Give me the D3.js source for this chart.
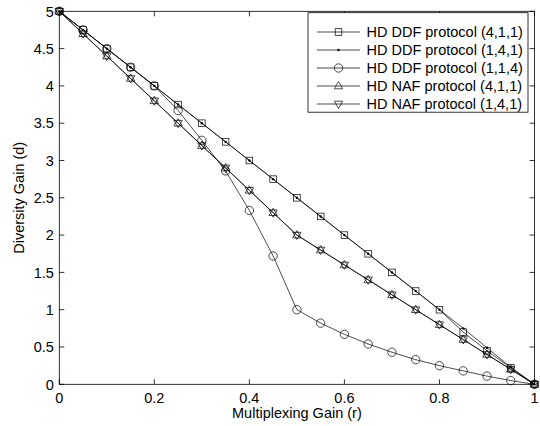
<!DOCTYPE html>
<html><head><meta charset="utf-8">
<script src="https://cdn.jsdelivr.net/npm/d3@7"></script>
<style>body{margin:0;background:#fff}svg{display:block}text{font-family:"Liberation Sans",Arial,sans-serif;fill:#000}</style>
</head><body>
<script>
const rValues = [0,0.05,0.1,0.15,0.2,0.25,0.3,0.35,0.4,0.45,0.5,0.55,0.6,0.65,0.7,0.75,0.8,0.85,0.9,0.95,1];
const ddf411 = [5,4.75,4.5,4.25,4,3.75,3.5,3.25,3,2.75,2.5,2.25,2,1.75,1.5,1.25,1,0.70,0.45,0.22,0];
const ddf141 = [5,4.75,4.5,4.25,4,3.75,3.5,3.25,3,2.75,2.5,2.25,2,1.75,1.5,1.25,1,0.75,0.49,0.23,0];
const ddf114 = [5,4.75,4.5,4.25,4,3.67,3.27,2.86,2.33,1.72,1,0.82,0.67,0.54,0.43,0.33,0.25,0.18,0.11,0.05,0];
const naf411 = [5,4.7,4.4,4.1,3.8,3.5,3.2,2.9,2.6,2.3,2,1.8,1.6,1.4,1.2,1,0.8,0.6,0.4,0.2,0];
const naf141 = [5,4.7,4.4,4.1,3.8,3.5,3.2,2.9,2.6,2.3,2,1.8,1.6,1.4,1.2,1,0.8,0.6,0.4,0.2,0];
const xTicks = [0,0.2,0.4,0.6,0.8,1];
const yTicks = [0,0.5,1,1.5,2,2.5,3,3.5,4,4.5,5];
const seriesNames = ["HD DDF protocol (4,1,1)","HD DDF protocol (1,4,1)","HD DDF protocol (1,1,4)","HD NAF protocol (4,1,1)","HD NAF protocol (1,4,1)"];
const seriesData = [ddf411, ddf141, ddf114, naf411, naf141];
const seriesMarkers = ["square","dot","circle","triUp","triDown"];

const W=540,H=426, L=59.3, R=534.5, T=11.3, B=384.3, FS=14.5;
const svg=d3.select("body").append("svg").attr("width",W).attr("height",H);
const x=d3.scaleLinear().domain([0,1]).range([L,R]);
const y=d3.scaleLinear().domain([0,5]).range([B,T]);

const g=svg.append("g");
const tl=5;
xTicks.forEach(t=>{
  g.append("line").attr("x1",x(t)).attr("x2",x(t)).attr("y1",B).attr("y2",B-tl).attr("stroke","#000").attr("stroke-width",0.8);
  g.append("line").attr("x1",x(t)).attr("x2",x(t)).attr("y1",T).attr("y2",T+tl).attr("stroke","#000").attr("stroke-width",0.8);
  g.append("text").attr("x",x(t)).attr("y",B+18.5).attr("text-anchor","middle").attr("font-size",FS).text(d3.format("")(t));
});
yTicks.forEach(t=>{
  g.append("line").attr("x1",L).attr("x2",L+tl).attr("y1",y(t)).attr("y2",y(t)).attr("stroke","#000").attr("stroke-width",0.8);
  g.append("line").attr("x1",R).attr("x2",R-tl).attr("y1",y(t)).attr("y2",y(t)).attr("stroke","#000").attr("stroke-width",0.8);
  g.append("text").attr("x",L-5.5).attr("y",y(t)+5.2).attr("text-anchor","end").attr("font-size",FS).text(d3.format("")(t));
});
g.append("rect").attr("x",L).attr("y",T).attr("width",R-L).attr("height",B-T).attr("fill","none").attr("stroke","#000").attr("stroke-width",0.8);

svg.append("text").attr("x",(L+R)/2).attr("y",417.5).attr("text-anchor","middle").attr("font-size",FS).text("Multiplexing Gain (r)");
svg.append("text").attr("transform",`translate(24,${(T+B)/2}) rotate(-90)`).attr("text-anchor","middle").attr("font-size",FS).text("Diversity Gain (d)");

function marker(sel, type, cx, cy){
  if(type==="square") sel.append("rect").attr("x",cx-3.3).attr("y",cy-3.3).attr("width",6.6).attr("height",6.6).attr("fill","none").attr("stroke","#000").attr("stroke-width",0.7);
  else if(type==="dot") sel.append("circle").attr("cx",cx).attr("cy",cy).attr("r",1.2).attr("fill","#000");
  else if(type==="circle") sel.append("circle").attr("cx",cx).attr("cy",cy).attr("r",4.2).attr("fill","none").attr("stroke","#000").attr("stroke-width",0.7);
  else if(type==="triUp") sel.append("path").attr("d",`M${cx},${cy-4.5}L${cx+4.2},${cy+2.8}L${cx-4.2},${cy+2.8}Z`).attr("fill","none").attr("stroke","#000").attr("stroke-width",0.7);
  else if(type==="triDown") sel.append("path").attr("d",`M${cx},${cy+4.5}L${cx+4.2},${cy-2.8}L${cx-4.2},${cy-2.8}Z`).attr("fill","none").attr("stroke","#000").attr("stroke-width",0.7);
}

const line=d3.line().x((d,i)=>x(rValues[i])).y(d=>y(d));
seriesData.forEach((s,k)=>{
  const sg=svg.append("g");
  sg.append("path").attr("d",line(s)).attr("fill","none").attr("stroke","#000").attr("stroke-width",0.7);
  s.forEach((d,i)=>marker(sg,seriesMarkers[k],x(rValues[i]),y(d)));
});

const lg=svg.append("g");
lg.append("rect").attr("x",308).attr("y",12.7).attr("width",220).attr("height",99.5).attr("fill","#fff").attr("stroke","#000").attr("stroke-width",0.8);
seriesNames.forEach((n,i)=>{
  const yy=32+i*18;
  lg.append("line").attr("x1",316.7).attr("x2",360).attr("y1",yy).attr("y2",yy).attr("stroke","#000").attr("stroke-width",0.7);
  marker(lg,seriesMarkers[i],338.5,yy);
  lg.append("text").attr("x",366.5).attr("y",yy+5.2).attr("font-size",FS).text(n);
});
</script>
</body></html>
